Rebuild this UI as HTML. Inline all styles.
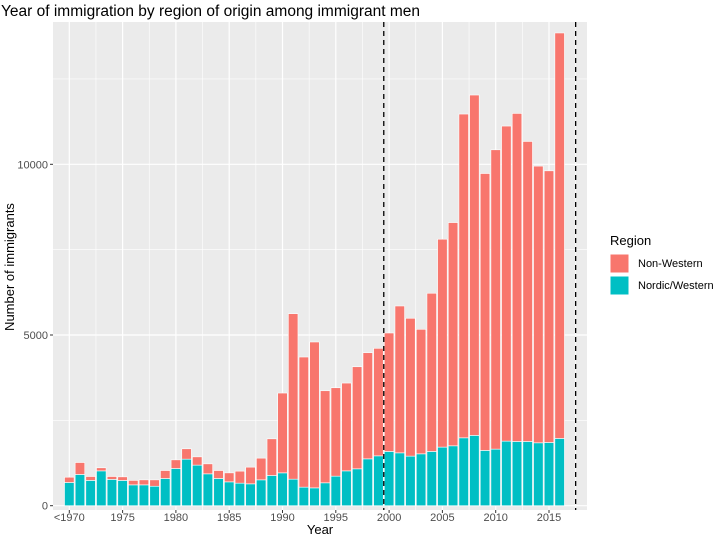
<!DOCTYPE html>
<html><head><meta charset="utf-8"><style>
body{margin:0;background:#fff;font-family:"Liberation Sans",Arial,sans-serif}
svg{display:block}
</style></head><body>
<svg id="chart" width="715" height="536" viewBox="0 0 715 536" xmlns="http://www.w3.org/2000/svg">
<text x="1" y="16" font-size="15.5" fill="#000">Year of immigration by region of origin among immigrant men</text>
<rect x="53" y="22" width="534" height="488" fill="#ebebeb"/>
<g id="grid"></g>
<g id="bars"></g>
<g id="xticks"></g>
<g id="yticks"></g>
<text x="320" y="534" font-size="13" text-anchor="middle">Year</text>
<text transform="translate(14,267) rotate(-90)" font-size="13" text-anchor="middle">Number of immigrants</text>
<g>
<text x="610" y="245" font-size="13">Region</text>
<rect x="610" y="254" width="19" height="19" fill="#F8766D" stroke="#fff"/>
<text x="638" y="267" font-size="11">Non-Western</text>
<rect x="610" y="276" width="19" height="19" fill="#00BFC4" stroke="#fff"/>
<text x="638" y="289" font-size="11">Nordic/Western</text>
</g>
</svg>
<script>
const years = [1970,1971,1972,1973,1974,1975,1976,1977,1978,1979,1980,1981,1982,1983,1984,1985,1986,1987,1988,1989,1990,1991,1992,1993,1994,1995,1996,1997,1998,1999,2000,2001,2002,2003,2004,2005,2006,2007,2008,2009,2010,2011,2012,2013,2014,2015,2016];
const nordicWestern = [680,915,740,1020,770,740,610,610,570,797,1090,1363,1188,933,797,698,660,640,757,885,962,777,543,522,670,865,1020,1080,1372,1460,1589,1548,1452,1519,1589,1716,1754,1988,2059,1619,1657,1891,1881,1881,1842,1852,1970];
const totals = [835,1265,855,1110,855,845,740,757,757,1030,1343,1667,1431,1226,1030,962,1012,1129,1393,1959,3300,5625,4355,4795,3367,3455,3592,4070,4481,4610,5059,5850,5490,5167,6223,7806,8293,11472,12029,9730,10425,11120,11490,10669,9947,9809,13847];
const xTickValues = [1970,1975,1980,1985,1990,1995,2000,2005,2010,2015];
const xTickLabels = ["<1970","1975","1980","1985","1990","1995","2000","2005","2010","2015"];
const yTickValues = [0,5000,10000];
const vlines = [1999.5,2017.5];

const NS="http://www.w3.org/2000/svg";
const X = y => 69.3 + (y-1970)*10.66;
const Y = v => 505.7 - v*0.03414;
const PL=53, PR=587, PT=22, PB=510;
function mk(tag, attrs, parent){const e=document.createElementNS(NS,tag);for(const k in attrs)e.setAttribute(k,attrs[k]);parent.appendChild(e);return e;}
const grid=document.getElementById('grid');
for(let v=2500; v<=12500; v+=5000){
  const l=mk('line',{x1:PL,x2:PR,y1:Y(v),y2:Y(v),stroke:'#fff','stroke-width':0.6},grid);
  
  
}
for(let i=0;i<xTickValues.length-1;i++){
  const xm=(X(xTickValues[i])+X(xTickValues[i+1]))/2;
  const l=mk('line',{x1:xm,x2:xm,y1:PT,y2:PB,stroke:'#fff','stroke-width':0.6},grid);
  
  
}
{const xm=X(2015)+26.65; const l=mk('line',{x1:xm,x2:xm,y1:PT,y2:PB,stroke:'#fff','stroke-width':0.6},grid);
 
 }
yTickValues.forEach(v=>{
  const l=mk('line',{x1:PL,x2:PR,y1:Y(v),y2:Y(v),stroke:'#fff','stroke-width':1.2},grid);
  
  
});
xTickValues.forEach(v=>{
  const l=mk('line',{x1:X(v),x2:X(v),y1:PT,y2:PB,stroke:'#fff','stroke-width':1.2},grid);
  
  
});
const bars=document.getElementById('bars');
const bw=9.6;
years.forEach((yr,i)=>{
  const x=X(yr)-bw/2;
  const t=mk('rect',{x:x,y:Y(nordicWestern[i]),width:bw,height:Y(0)-Y(nordicWestern[i]),fill:'#00BFC4',stroke:'#fff','stroke-width':0.6},bars);
  
  
  const r=mk('rect',{x:x,y:Y(totals[i]),width:bw,height:Y(nordicWestern[i])-Y(totals[i]),fill:'#F8766D',stroke:'#fff','stroke-width':0.6},bars);
  
  
});
vlines.forEach(v=>{
  const l=mk('line',{x1:X(v),x2:X(v),y1:PT,y2:PB,stroke:'#000','stroke-width':1.3,'stroke-dasharray':'5,4'},bars);
  
  
});
const xt=document.getElementById('xticks');
xTickValues.forEach((v,i)=>{
  const l=mk('line',{x1:X(v),x2:X(v),y1:PB,y2:PB+3,stroke:'#333','stroke-width':1},xt);
  
  
  const t=mk('text',{x:X(v),y:PB+11,'font-size':11,fill:'#4d4d4d','text-anchor':'middle'},xt);
  t.textContent=xTickLabels[i];
  
  
});
const yt=document.getElementById('yticks');
yTickValues.forEach(v=>{
  const l=mk('line',{x1:PL-3,x2:PL,y1:Y(v),y2:Y(v),stroke:'#333','stroke-width':1},yt);
  
  
  const t=mk('text',{x:PL-5,y:Y(v)+4,'font-size':11,fill:'#4d4d4d','text-anchor':'end'},yt);
  t.textContent=String(v);
  
  
});
</script>
</body></html>
